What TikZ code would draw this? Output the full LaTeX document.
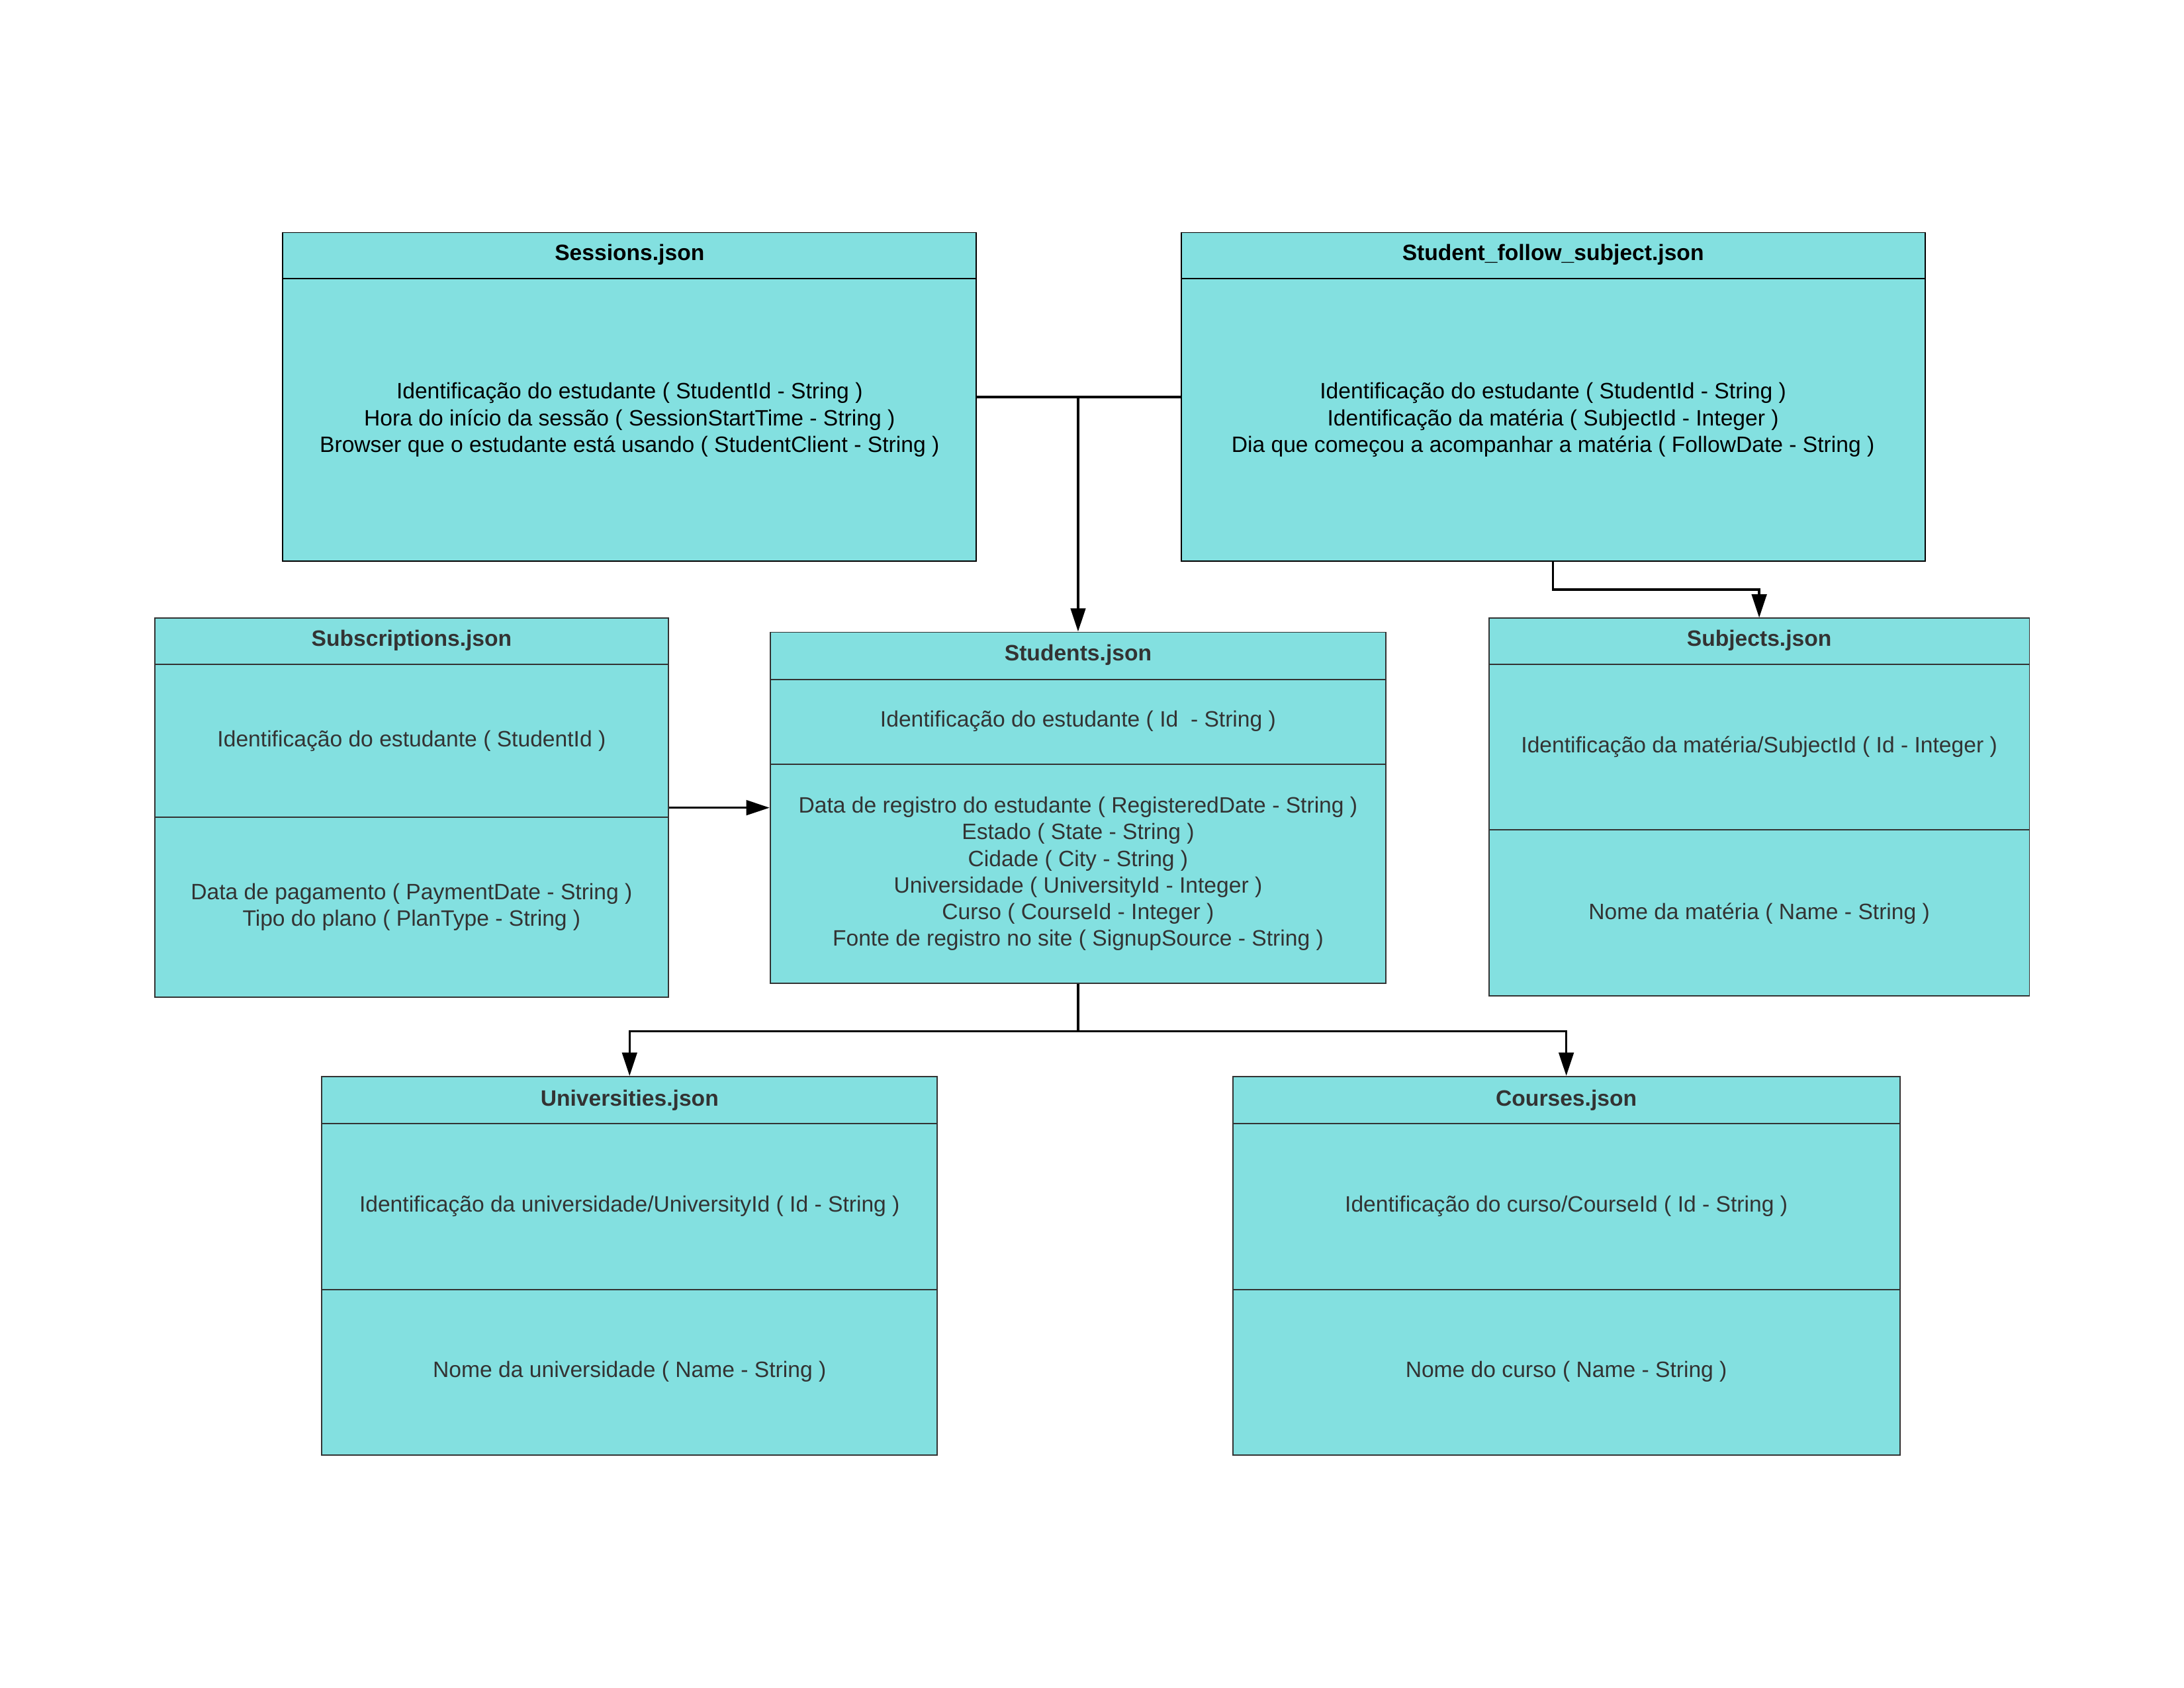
\documentclass[tikz,border=0pt]{standalone}
\usepackage{fontspec}
\setmainfont{Liberation Sans}
\usetikzlibrary{arrows.meta,fit}
\definecolor{tealfill}{RGB}{131,224,224}
\definecolor{darkline}{RGB}{51,51,51}
\begin{document}
\begin{tikzpicture}[x=0.017819cm,y=-0.017819cm,
  tbl/.style={draw=darkline,fill=tealfill,line width=0.45pt,inner sep=0pt,rectangle},
  tblk/.style={tbl,draw=black},
  sep/.style={draw=darkline,line width=0.45pt},
  sepk/.style={sep,draw=black},
  hd/.style={font=\fontsize{8.1}{9.7}\selectfont\bfseries,text=darkline,inner sep=0pt},
  hdk/.style={hd,text=black},
  bt/.style={font=\fontsize{8.1}{9.7}\selectfont,text=darkline,align=center,inner sep=0pt},
  btk/.style={bt,text=black},
  link/.style={draw=black,line width=0.85pt},
  arr/.style={link,-{Triangle[length=8.5pt,width=5.4pt]}}]
\useasboundingbox (0,0) rectangle (1568,1212);

% ---- Sessions.json ----
\node[tblk,fit={(203,167) (701,403)}] (ses) {};
\draw[sepk] (203,200) -- (701,200);
\node[hdk] (sesh) at (452,183) {Sessions.json};
\node[btk] (sesb) at (452,301.5) {Identificação do estudante ( StudentId - String )\\Hora do início da sessão ( SessionStartTime - String )\\Browser que o estudante está usando ( StudentClient - String )};

% ---- Student_follow_subject.json ----
\node[tblk,fit={(848,167) (1382,403)}] (sfs) {};
\draw[sepk] (848,200) -- (1382,200);
\node[hdk] (sfsh) at (1115,183) {Student\_follow\_subject.json};
\node[btk] (sfsb) at (1115,301.5) {Identificação do estudante ( StudentId - String )\\Identificação da matéria ( SubjectId - Integer )\\Dia que começou a acompanhar a matéria ( FollowDate - String )};

% ---- Subscriptions.json ----
\node[tbl,fit={(111,444) (480,716)}] (subs) {};
\draw[sep] (111,477) -- (480,477);
\draw[sep] (111,587) -- (480,587);
\node[hd] (subsh) at (295.5,460) {Subscriptions.json};
\node[bt] (subsa) at (295.5,532) {Identificação do estudante ( StudentId )};
\node[bt] (subsb) at (295.5,651.5) {Data de pagamento ( PaymentDate - String )\\Tipo do plano ( PlanType - String )};

% ---- Students.json ----
\node[tbl,fit={(553,454) (995,706)}] (stu) {};
\draw[sep] (553,488) -- (995,488);
\draw[sep] (553,549) -- (995,549);
\node[hd] (stuh) at (774,470.5) {Students.json};
\node[bt] (stua) at (774,518) {Identificação do estudante ( Id~~- String )};
\node[bt] (stub) at (774,627.5) {Data de registro do estudante ( RegisteredDate - String )\\Estado ( State - String )\\Cidade ( City - String )\\Universidade ( UniversityId - Integer )\\Curso ( CourseId - Integer )\\Fonte de registro no site ( SignupSource - String )};

% ---- Subjects.json ----
\node[tbl,fit={(1069,444) (1457,715)}] (subj) {};
\draw[sep] (1069,477) -- (1457,477);
\draw[sep] (1069,596) -- (1457,596);
\node[hd] (subjh) at (1263,460) {Subjects.json};
\node[bt] (subja) at (1263,536.5) {Identificação da matéria/SubjectId ( Id - Integer )};
\node[bt] (subjb) at (1263,656) {Nome da matéria ( Name - String )};

% ---- Universities.json ----
\node[tbl,fit={(231,773) (673,1045)}] (uni) {};
\draw[sep] (231,807) -- (673,807);
\draw[sep] (231,926) -- (673,926);
\node[hd] (unih) at (452,790) {Universities.json};
\node[bt] (unia) at (452,866) {Identificação da universidade/UniversityId ( Id - String )};
\node[bt] (unib) at (452,985) {Nome da universidade ( Name - String )};

% ---- Courses.json ----
\node[tbl,fit={(885,773) (1364,1045)}] (cou) {};
\draw[sep] (885,807) -- (1364,807);
\draw[sep] (885,926) -- (1364,926);
\node[hd] (couh) at (1124.5,790) {Courses.json};
\node[bt] (coua) at (1124.5,866) {Identificação do curso/CourseId ( Id - String )};
\node[bt] (coub) at (1124.5,985) {Nome do curso ( Name - String )};

% ---- connectors ----
\coordinate (jtop) at (stu.north |- ses.east);
\draw[link] (ses.east) -- (sfs.west);
\draw[arr] (jtop) -- (stu.north);
\draw[arr] (sfs.south) -- ++(0,20) -| (subj.north);
\draw[arr] (subs.east) -- (stu.west);
\draw[link] (stu.south) -- ++(0,34) coordinate (jbot);
\draw[arr] (jbot) -| (uni.north);
\draw[arr] (jbot) -| (cou.north);
\end{tikzpicture}
\end{document}
